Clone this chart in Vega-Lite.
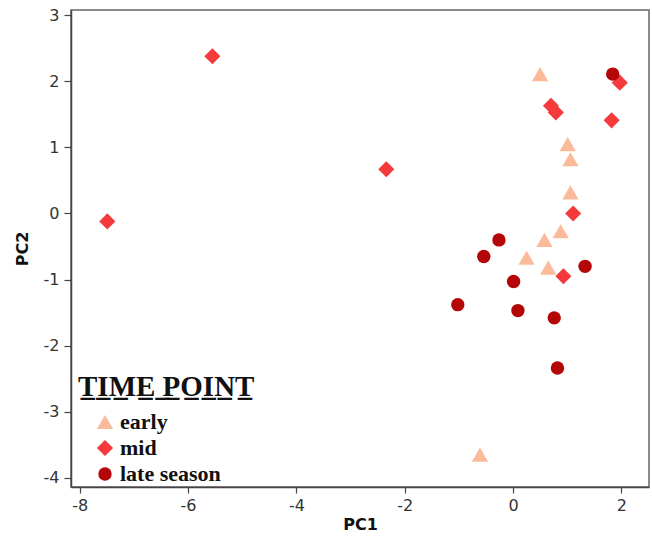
{
  "$schema": "https://vega.github.io/schema/vega-lite/v6.json",
  "width": 578,
  "height": 477,
  "autosize": {"type": "none"},
  "padding": {"left": 71, "top": 10, "right": 3, "bottom": 55},
  "background": "white",
  "config": {
    "view": {"stroke": "#666666", "strokeWidth": 1.5},
    "axis": {
      "labelFont": "DejaVu Sans",
      "labelFontSize": 16,
      "labelColor": "#333333",
      "titleFont": "DejaVu Sans",
      "titleFontSize": 16,
      "titleFontWeight": "bold",
      "titleColor": "#111111",
      "domainColor": "#444444",
      "domainWidth": 1.5,
      "tickColor": "#444444",
      "tickWidth": 1.2,
      "grid": false
    }
  },
  "datasets": {
    "pts": [
      {"PC1": -7.49, "PC2": -0.12, "time": "mid"},
      {"PC1": -5.55, "PC2": 2.38, "time": "mid"},
      {"PC1": -2.34, "PC2": 0.67, "time": "mid"},
      {"PC1": 0.70, "PC2": 1.63, "time": "mid"},
      {"PC1": 0.79, "PC2": 1.53, "time": "mid"},
      {"PC1": 1.97, "PC2": 1.98, "time": "mid"},
      {"PC1": 1.82, "PC2": 1.41, "time": "mid"},
      {"PC1": 1.11, "PC2": 0.0, "time": "mid"},
      {"PC1": 0.93, "PC2": -0.95, "time": "mid"},
      {"PC1": 0.50, "PC2": 2.11, "time": "early"},
      {"PC1": 1.01, "PC2": 1.05, "time": "early"},
      {"PC1": 1.06, "PC2": 0.82, "time": "early"},
      {"PC1": 1.06, "PC2": 0.32, "time": "early"},
      {"PC1": 0.88, "PC2": -0.27, "time": "early"},
      {"PC1": 0.58, "PC2": -0.40, "time": "early"},
      {"PC1": 0.25, "PC2": -0.67, "time": "early"},
      {"PC1": 0.65, "PC2": -0.82, "time": "early"},
      {"PC1": -0.61, "PC2": -3.65, "time": "early"},
      {"PC1": 1.84, "PC2": 2.11, "time": "late season"},
      {"PC1": -0.26, "PC2": -0.40, "time": "late season"},
      {"PC1": -0.54, "PC2": -0.65, "time": "late season"},
      {"PC1": 1.33, "PC2": -0.80, "time": "late season"},
      {"PC1": 0.01, "PC2": -1.03, "time": "late season"},
      {"PC1": -1.02, "PC2": -1.38, "time": "late season"},
      {"PC1": 0.09, "PC2": -1.47, "time": "late season"},
      {"PC1": 0.76, "PC2": -1.58, "time": "late season"},
      {"PC1": 0.82, "PC2": -2.34, "time": "late season"}
    ]
  },
  "layer": [
    {
      "mark": {"type": "rule", "color": "#666666", "strokeWidth": 1.5},
      "encoding": {"x": {"datum": 0, "type": "quantitative", "scale": {"domain": [-8.16, 2.51], "nice": false, "zero": false}}}
    },
    {
      "mark": {"type": "rule", "color": "#666666", "strokeWidth": 1.5},
      "encoding": {"y": {"datum": 0, "type": "quantitative", "scale": {"domain": [-4.14, 3.08], "nice": false, "zero": false}}}
    },
    {
      "data": {"name": "pts"},
      "mark": {"type": "point", "filled": true, "opacity": 1, "strokeWidth": 0},
      "encoding": {
        "x": {
          "field": "PC1", "type": "quantitative",
          "scale": {"domain": [-8.16, 2.51], "nice": false, "zero": false},
          "axis": {"values": [-8, -6, -4, -2, 0, 2], "labelExpr": "datum.value + ''", "tickSize": 6, "labelPadding": 4, "titlePadding": 3, "title": "PC1"}
        },
        "y": {
          "field": "PC2", "type": "quantitative",
          "scale": {"domain": [-4.14, 3.08], "nice": false, "zero": false},
          "axis": {"values": [-4, -3, -2, -1, 0, 1, 2, 3], "labelExpr": "datum.value + ''", "tickSize": 7, "labelPadding": 5, "titlePadding": 13, "title": "PC2"}
        },
        "color": {
          "field": "time", "type": "nominal",
          "scale": {"domain": ["early", "mid", "late season"], "range": ["#fbbb9a", "#f43a3a", "#b40606"]},
          "legend": {
            "title": "T̲I̲M̲E̲ ̲P̲O̲I̲N̲T̲",
            "orient": "none",
            "legendX": 7,
            "legendY": 363,
            "padding": 0,
            "titleFont": "Liberation Serif",
            "titleFontSize": 29,
            "titleFontWeight": "bold",
            "titleColor": "#111111",
            "titlePadding": 9,
            "labelFont": "Liberation Serif",
            "labelFontSize": 22,
            "labelFontWeight": "bold",
            "labelColor": "#111111",
            "labelOffset": 4,
            "symbolStrokeWidth": 0,
            "rowPadding": 4,
            "symbolOffset": 16
          }
        },
        "shape": {
          "field": "time", "type": "nominal",
          "scale": {"domain": ["early", "mid", "late season"], "range": ["triangle-up", "diamond", "circle"]}
        },
        "size": {
          "field": "time", "type": "nominal",
          "scale": {"type": "ordinal", "domain": ["early", "mid", "late season"], "range": [265, 260, 180]},
          "legend": null
        }
      }
    }
  ]
}
